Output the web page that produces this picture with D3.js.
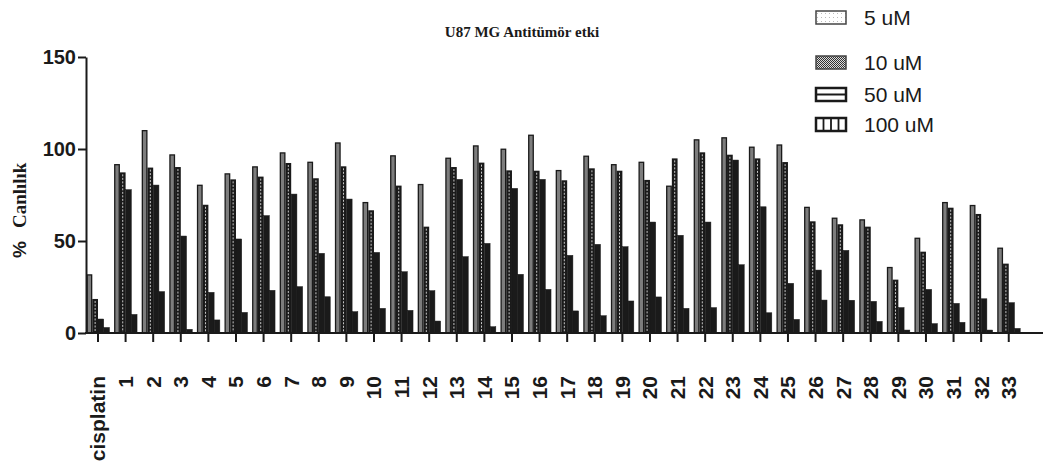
<!DOCTYPE html>
<html><head><meta charset="utf-8">
<script src="https://cdn.jsdelivr.net/npm/d3@7"></script>
<style>body{margin:0;background:#fff}svg{display:block}</style>
</head><body>
<script>
const categories = ["cisplatin","1","2","3","4","5","6","7","8","9","10","11","12","13","14","15","16","17","18","19","20","21","22","23","24","25","26","27","28","29","30","31","32","33"];
const seriesNames = ["5 uM","10 uM","50 uM","100 uM"];
const s5 = [31.9,91.8,110.3,97.1,80.6,86.8,90.6,98.2,93.1,103.6,71.2,96.6,81,95.3,102,100.2,107.8,88.6,96.4,91.8,93.1,80.1,105.3,106.4,101.3,102.5,68.6,62.7,61.8,35.9,51.8,71.2,69.6,46.4];
const s10 = [18.5,87.3,89.9,90.2,69.7,83.5,85,92.4,84.1,90.6,66.7,80.1,57.8,90.2,92.6,88.4,88.2,83,89.5,88.2,83.2,94.9,98.2,96.9,94.9,92.9,60.7,59.1,57.8,29,44.2,68.1,64.7,37.7];
const s50 = [7.6,77.9,80.4,52.7,22.1,51.1,63.8,75.5,43.3,72.8,43.8,33.3,23,83.5,48.7,78.6,83.5,42.2,48.2,46.9,60.3,53.1,60.3,94,68.6,27,34.2,44.9,17.2,13.8,23.7,16.1,18.6,16.5];
const s100 = [3,10.1,22.5,2,7.1,11.2,23.2,25.2,19.7,11.6,13.4,12.3,6.5,41.5,3.4,31.9,23.7,12,9.4,17.4,19.6,13.4,13.8,37.1,11,7.4,17.9,17.8,6.3,1.6,5.1,5.8,1.6,2.5];
const yTicks = [0,50,100,150];
const title = "U87 MG Antitümör etki";

const series = [s5,s10,s50,s100];
const W=1046,H=463;
const svg=d3.select("body").append("svg").attr("width",W).attr("height",H);

const defs=svg.append("defs");
const p1=defs.append("pattern").attr("id","pDots").attr("patternUnits","userSpaceOnUse").attr("width",4).attr("height",4);
p1.append("rect").attr("width",4).attr("height",4).attr("fill","#fff");
p1.append("rect").attr("x",1).attr("y",1).attr("width",1).attr("height",1).attr("fill","#bbb");
const p2=defs.append("pattern").attr("id","pCheck").attr("patternUnits","userSpaceOnUse").attr("width",2).attr("height",2);
p2.append("rect").attr("width",2).attr("height",2).attr("fill","#ddd");
p2.append("rect").attr("width",1).attr("height",1).attr("fill","#333");
p2.append("rect").attr("x",1).attr("y",1).attr("width",1).attr("height",1).attr("fill","#333");

const y=d3.scaleLinear().domain([0,150]).range([333,57]);
const x0=d3.scaleBand().domain(categories).range([81.85,1024.9]).paddingInner(0.17).paddingOuter(0.17);
const x1=d3.scaleBand().domain(d3.range(4)).range([0,x0.bandwidth()]);

const ink="#1a1a1a";
const g=svg.append("g");
categories.forEach((c,i)=>{
  const gx=x0(c);
  series.forEach((s,k)=>{
    const v=s[i];
    const bx=gx+x1(k), bw=x1.bandwidth(), by=y(v), bh=y(0)-y(v);
    if(k===0){
      g.append("rect").attr("x",bx+0.6).attr("y",by+0.6).attr("width",bw-1.2).attr("height",Math.max(0,bh-0.6))
        .attr("fill","#7d7d7d").attr("stroke",ink).attr("stroke-width",1.3);
    } else if(k===1){
      g.append("rect").attr("x",bx).attr("y",by).attr("width",bw).attr("height",bh).attr("fill",ink);
      g.append("line").attr("x1",bx+bw/2).attr("x2",bx+bw/2).attr("y1",by+2).attr("y2",y(0))
        .attr("stroke","#c8c8c8").attr("stroke-width",1).attr("stroke-dasharray","2,1.5");
    } else {
      g.append("rect").attr("x",bx).attr("y",by).attr("width",bw).attr("height",bh).attr("fill",ink)
        .attr("stroke",ink).attr("stroke-width",0.5);
    }
  });
});

const yAxis=svg.append("g").attr("transform","translate(86,0)")
  .call(d3.axisLeft(y).tickValues(yTicks).tickSize(8).tickSizeOuter(0).tickPadding(2));
yAxis.select(".domain").attr("stroke",ink).attr("stroke-width",2);
yAxis.selectAll(".tick line").attr("stroke",ink).attr("stroke-width",2);
yAxis.selectAll("text").attr("font-family","Liberation Sans, Arial, sans-serif").attr("font-weight","bold")
  .attr("font-size",20).attr("fill",ink);

const xAxis=svg.append("g").attr("transform","translate(0,333)")
  .call(d3.axisBottom(x0).tickSize(9).tickSizeOuter(0));
xAxis.select(".domain").remove();
xAxis.selectAll(".tick line").attr("stroke",ink).attr("stroke-width",2);
xAxis.selectAll("text").attr("font-family","Liberation Sans, Arial, sans-serif").attr("font-weight","bold")
  .attr("font-size",21).attr("fill",ink)
  .attr("transform","rotate(-90)").attr("x",-43).attr("y",0).attr("dy","0.35em").attr("text-anchor","end");
svg.append("line").attr("x1",85).attr("x2",1043).attr("y1",333).attr("y2",333).attr("stroke",ink).attr("stroke-width",2);

const yt=svg.append("text").attr("transform","translate(26,258) rotate(-90)").attr("fill",ink).attr("font-weight","bold");
yt.append("tspan").attr("font-family","Liberation Sans, Arial, sans-serif").attr("font-size",19).text("%");
yt.append("tspan").attr("dx",13).attr("font-family","Liberation Serif, Times New Roman, serif").attr("font-size",19).text("Canlılık");

svg.append("text").attr("x",522).attr("y",37).attr("text-anchor","middle")
  .attr("font-family","Liberation Serif, Times New Roman, serif").attr("font-weight","bold").attr("font-size",15)
  .attr("fill",ink).text(title);

const legY=[25,70,102,132];
const lg=svg.append("g");
seriesNames.forEach((n,k)=>{
  const by=legY[k]-14, bx=816, bw=30, bh=13;
  if(k===0){
    lg.append("rect").attr("x",bx).attr("y",by).attr("width",bw).attr("height",bh).attr("fill","url(#pDots)").attr("stroke","#444").attr("stroke-width",1.5);
  } else if(k===1){
    lg.append("rect").attr("x",bx).attr("y",by).attr("width",bw).attr("height",bh).attr("fill","url(#pCheck)").attr("stroke","#444").attr("stroke-width",1.5);
  } else if(k===2){
    lg.append("rect").attr("x",bx).attr("y",by).attr("width",bw).attr("height",bh).attr("fill","#fff").attr("stroke",ink).attr("stroke-width",2.5);
    lg.append("line").attr("x1",bx).attr("x2",bx+bw).attr("y1",by+bh/2).attr("y2",by+bh/2).attr("stroke",ink).attr("stroke-width",2);
  } else {
    lg.append("rect").attr("x",bx).attr("y",by).attr("width",bw).attr("height",bh).attr("fill","#fff").attr("stroke",ink).attr("stroke-width",2.5);
    [1,2,3].forEach(j=>lg.append("line").attr("x1",bx+j*bw/4).attr("x2",bx+j*bw/4).attr("y1",by).attr("y2",by+bh).attr("stroke",ink).attr("stroke-width",1.8));
  }
  lg.append("text").attr("x",864).attr("y",legY[k]).attr("font-family","Liberation Sans, Arial, sans-serif")
    .attr("font-size",21).attr("fill",ink).text(n);
});
</script>
</body></html>
